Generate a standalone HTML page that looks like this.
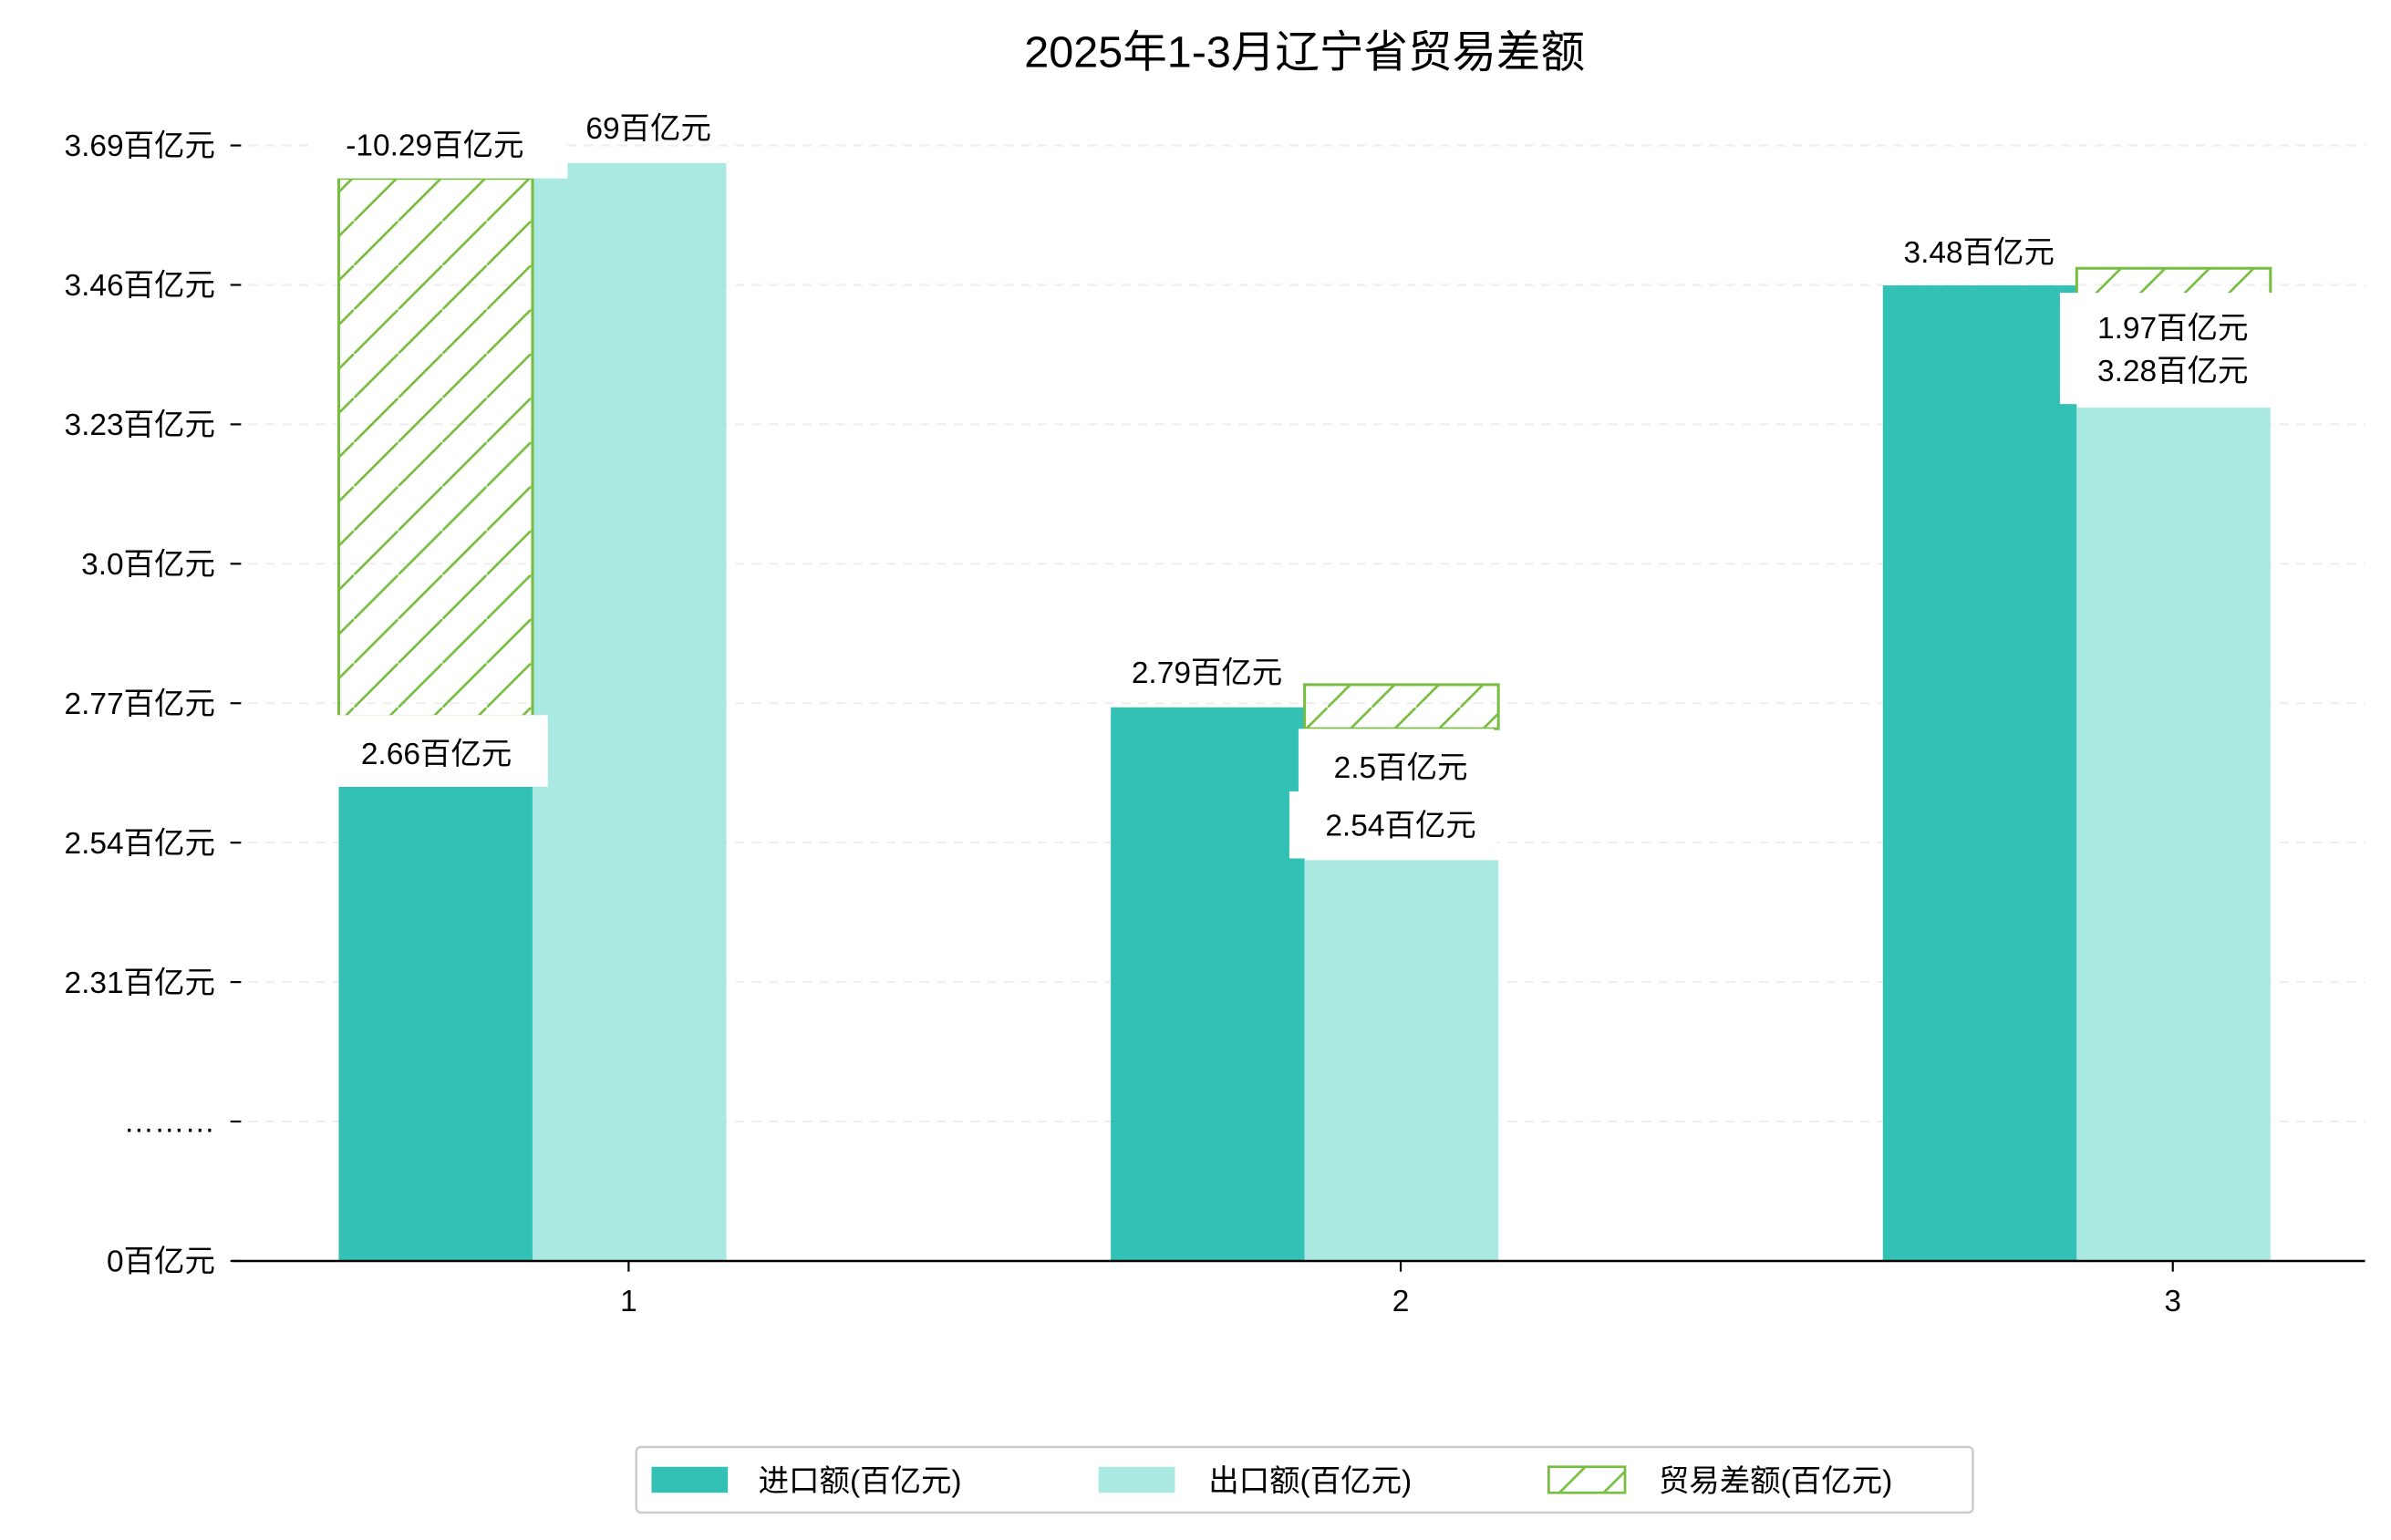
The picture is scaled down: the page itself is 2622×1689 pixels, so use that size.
<!DOCTYPE html>
<html><head><meta charset="utf-8"><style>
html,body{margin:0;padding:0;background:#fff;}
svg{display:block;}
text{font-family:"Liberation Sans","WenQuanYi Zen Hei","Noto Sans CJK SC",sans-serif;fill:#000;}
</style></head><body>
<svg id="chart" width="2622" height="1689" viewBox="0 0 1567 1010" preserveAspectRatio="none" xmlns="http://www.w3.org/2000/svg">
<defs>
<pattern id="hatch" patternUnits="userSpaceOnUse" width="29" height="29">
<line x1="-2" y1="31" x2="31" y2="-2" stroke="#76bd40" stroke-width="1.6"/>
</pattern>
</defs>
<text x="855" y="44" font-size="29" text-anchor="middle">2025年1-3月辽宁省贸易差额</text>
<g id="grid"></g>
<g id="yaxis"></g>
<g id="bars"></g>
<g id="labels"></g>
<line x1="152" y1="827" x2="1550" y2="827" stroke="#000" stroke-width="1.5"/>
<g id="xaxis"></g>
<g>
<rect x="417" y="949" width="876" height="43" rx="3" fill="#fff" stroke="#ccc" stroke-width="1.5"/>
<rect x="427" y="962" width="50" height="17" fill="#32c1b4"/>
<text x="497" y="978" font-size="20">进口额(百亿元)</text>
<rect x="720" y="962" width="50" height="17" fill="#aae8e2"/>
<text x="792" y="978" font-size="20">出口额(百亿元)</text>
<rect x="1015" y="962" width="50" height="17" fill="url(#hatch)" stroke="#76bd40" stroke-width="1.6"/>
<text x="1087" y="978" font-size="20">贸易差额(百亿元)</text>
</g>
</svg>
<script>
const categories = ["1", "2", "3"];
const importValues = [2.66, 2.79, 3.48];
const exportValues = [3.68, 2.54, 3.28];
const balanceTop = [3.655, 2.827, 3.508];
const balanceBottom = [2.775, 2.755, 3.30];
const importLabels = ["2.66百亿元", "2.79百亿元", "3.48百亿元"];
const exportLabels = ["69百亿元", "2.54百亿元", "3.28百亿元"];
const balanceLabels = ["-10.29百亿元", "2.5百亿元", "1.97百亿元"];
const tickLabels = ["0百亿元", "………", "2.31百亿元", "2.54百亿元", "2.77百亿元", "3.0百亿元", "3.23百亿元", "3.46百亿元", "3.69百亿元"];

const NS = "http://www.w3.org/2000/svg";
const baseY = 827;
function yScale(v){ return 516 - (v - 2.66) * 401; }
function tickY(i){ return baseY - i * 91.45; }
function xCenter(i){ return 412 + i * 506; }
const bw = 127;
function mk(tag, attrs, parent){ const e=document.createElementNS(NS,tag); for(const k in attrs) e.setAttribute(k,attrs[k]); parent.appendChild(e); return e; }
const grid=document.getElementById('grid'), yax=document.getElementById('yaxis'), bars=document.getElementById('bars'), labels=document.getElementById('labels'), xax=document.getElementById('xaxis');

tickLabels.forEach((t,i)=>{
  const y=tickY(i);
  if(i>0){
    const g=mk('line',{x1:152,y1:y,x2:1550,y2:y,stroke:'#eee','stroke-width':1.2,'stroke-dasharray':'6,5'},grid);
    
    
  }
  const tk=mk('line',{x1:151,y1:y,x2:158,y2:y,stroke:'#000','stroke-width':1.3},yax);
  
  
  const tx=mk('text',{x:141,y:y+7,'font-size':20,'text-anchor':'end'},yax);
  tx.textContent=t;
  
  
});

function label(txt,cx,cy,box){
  if(box){
    const r=mk('rect',{x:box[0],y:box[1],width:box[2],height:box[3],fill:'#fff'},labels);
    
    
  }
  const t=mk('text',{x:cx,y:cy+7,'font-size':20,'text-anchor':'middle'},labels);
  t.textContent=txt;
  
  
}

categories.forEach((c,i)=>{
  const xc=xCenter(i);
  const xi=xc-190, xe=xc-63;
  const yi=yScale(importValues[i]);
  const bi=mk('rect',{x:xi,y:yi,width:bw,height:baseY-yi,fill:'#32c1b4'},bars);
  
  
  const ye=yScale(exportValues[i]);
  const be=mk('rect',{x:xe,y:ye,width:bw,height:baseY-ye,fill:'#aae8e2'},bars);
  
  
  const hx = i===0 ? xi : xe;
  const yt=yScale(balanceTop[i]), yb=yScale(balanceBottom[i]);
  const bh=mk('rect',{x:hx,y:yt,width:bw,height:yb-yt,fill:'url(#hatch)',stroke:'#76bd40','stroke-width':1.8},bars);
  
  
  const tl=mk('line',{x1:xc,y1:baseY,x2:xc,y2:baseY+7,stroke:'#000','stroke-width':1.3},xax);
  
  
  const tt=mk('text',{x:xc,y:baseY+33,'font-size':20,'text-anchor':'middle'},xax);
  tt.textContent=c;
  
  
});

label(balanceLabels[0], xCenter(0)-127, 95, [xCenter(0)-207,78,167,39]);
label(exportLabels[0], xCenter(0)+13, 84, null);
label(importLabels[0], xCenter(0)-126, 494, [xCenter(0)-197,469,144,47]);
label(importLabels[1], xCenter(1)-127, yScale(importValues[1])-23, null);
label(balanceLabels[1], xCenter(1)+0, 503, [xCenter(1)-67,478,128,42]);
label(exportLabels[1], xCenter(1)+0, 541, [xCenter(1)-73,519,136,44]);
label(importLabels[2], xCenter(2)-127, yScale(importValues[2])-22, null);
label(exportLabels[2], xCenter(2)+0, 243, [xCenter(2)-74,192,141,73]);
label(balanceLabels[2], xCenter(2)+0, 215, [xCenter(2)-70,196,130,33]);
</script>
</body></html>
